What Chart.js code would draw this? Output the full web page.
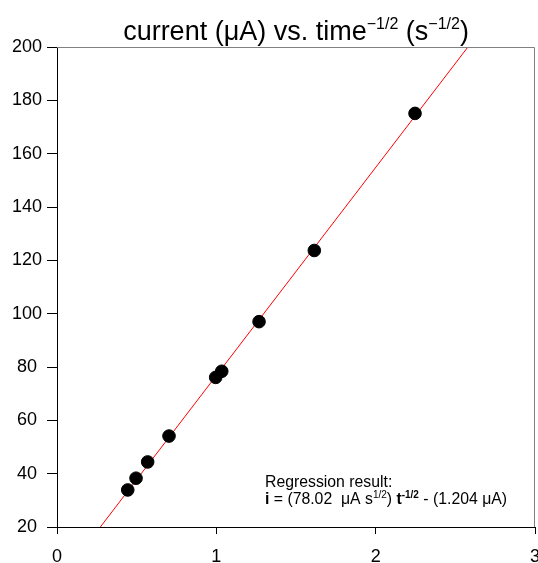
<!DOCTYPE html>
<html>
<head>
<meta charset="utf-8">
<script src="https://cdn.jsdelivr.net/npm/chart.js@4.4.0/dist/chart.umd.min.js"></script>
<style>
    html, body { margin: 0; padding: 0; background: #fff; }
    #wrap { width: 538px; height: 563px; }
</style>
</head>
<body>
<div id="wrap"><canvas id="chart" width="538" height="563"></canvas></div>
<script>
// measured points: t^-1/2 (s^-1/2) vs current (uA)
const invSqrtTime = [0.444, 0.496, 0.569, 0.703, 0.996, 1.034, 1.268, 1.615, 2.247];
const currentUA = [33.9, 38.3, 44.4, 54.1, 76.1, 78.4, 97.0, 123.7, 175.1];

// regression line end points as drawn
const fitX = [0.272, 2.579];
const fitY = [20, 200];

const xTicks = [0, 1, 2, 3];
const yTicks = [20, 40, 60, 80, 100, 120, 140, 160, 180, 200];

const FONT = '"Liberation Sans", Arial, Helvetica, sans-serif';

// draws a run of text pieces (some raised / smaller / bold) starting at x
function drawRuns(ctx, runs, x, y, align) {
    let total = 0;
    runs.forEach(r => {
        ctx.font = r.font;
        r.w = ctx.measureText(r.text).width;
        total += r.w;
    });
    let cx = align === 'center' ? x - total / 2 : x;
    ctx.textAlign = 'left';
    ctx.textBaseline = 'alphabetic';
    runs.forEach(r => {
        ctx.font = r.font;
        ctx.fillText(r.text, cx, y - (r.rise || 0));
        cx += r.w;
    });
}

const decorations = {
    id: 'decorations',
    afterDraw(chart) {
        const ctx = chart.ctx;
        const a = chart.chartArea;
        ctx.save();
        // grey top and right frame
        ctx.strokeStyle = '#808080';
        ctx.lineWidth = 1;
        ctx.beginPath();
        ctx.moveTo(a.left, a.top + 0.5);
        ctx.lineTo(a.right - 0.5, a.top + 0.5);
        ctx.lineTo(a.right - 0.5, a.bottom);
        ctx.stroke();

        ctx.fillStyle = '#000';
        const big = '27px ' + FONT;
        const sup = '16px ' + FONT;
        drawRuns(ctx, [
            { text: 'current (\u03bcA) vs. time', font: big },
            { text: '\u22121/2', font: sup, rise: 11 },
            { text: ' (s', font: big },
            { text: '\u22121/2', font: sup, rise: 11 },
            { text: ')', font: big }
        ], (a.left + a.right) / 2, 40, 'center');

        const f = '15.8px ' + FONT;
        const fb = 'bold 15.8px ' + FONT;
        const fs = '10px ' + FONT;
        const fsb = 'bold 10px ' + FONT;
        drawRuns(ctx, [{ text: 'Regression result:', font: f }], 265, 487, 'left');
        drawRuns(ctx, [
            { text: 'i', font: fb },
            { text: ' = (78.02  \u03bcA s', font: f },
            { text: '1/2', font: fs, rise: 6 },
            { text: ') ', font: f },
            { text: 't', font: fb },
            { text: '-1/2', font: fsb, rise: 6 },
            { text: ' - (1.204 \u03bcA)', font: f }
        ], 265, 504, 'left');
        ctx.restore();
    }
};

new Chart(document.getElementById('chart'), {
    type: 'scatter',
    data: {
        datasets: [{
            type: 'line',
            data: fitX.map((x, i) => ({ x, y: fitY[i] })),
            borderColor: '#ff0000',
            borderWidth: 1,
            pointRadius: 0,
            fill: false,
            order: 2
        }, {
            data: invSqrtTime.map((x, i) => ({ x, y: currentUA[i] })),
            backgroundColor: '#000',
            borderColor: '#000',
            pointRadius: 6.3,
            pointHoverRadius: 6.3,
            order: 1
        }]
    },
    options: {
        responsive: false,
        animation: false,
        events: [],
        layout: { autoPadding: false, padding: { top: 47, right: 3, left: 0, bottom: 0 } },
        plugins: { legend: { display: false }, tooltip: { enabled: false } },
        scales: {
            x: {
                type: 'linear',
                min: 0,
                max: 3,
                afterBuildTicks: s => { s.ticks = xTicks.map(v => ({ value: v })); },
                afterFit: s => { s.height = 36; s.paddingLeft = 0; s.paddingRight = 0; },
                border: { color: '#000', width: 1 },
                grid: { drawOnChartArea: false, tickLength: 7, color: '#000', tickColor: '#000' },
                ticks: { color: '#000', font: { family: FONT, size: 18 }, padding: 12, maxRotation: 0 }
            },
            y: {
                type: 'linear',
                min: 20,
                max: 200,
                afterBuildTicks: s => { s.ticks = yTicks.map(v => ({ value: v })); },
                afterFit: s => { s.width = 57; s.paddingTop = 0; s.paddingBottom = 0; },
                border: { color: '#000', width: 1 },
                grid: { drawOnChartArea: false, tickLength: 10, color: '#000', tickColor: '#000' },
                ticks: { color: '#000', font: { family: FONT, size: 18 }, padding: 5, crossAlign: 'center' }
            }
        }
    },
    plugins: [decorations]
});
</script>
</body>
</html>
